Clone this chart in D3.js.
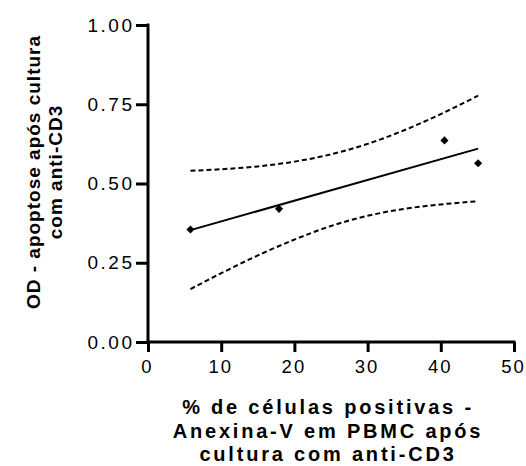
<!DOCTYPE html>
<html>
<head>
<meta charset="utf-8">
<script src="https://cdn.jsdelivr.net/npm/d3@7"></script>
<style>
  html, body { margin: 0; padding: 0; background: #fff; }
  svg { display: block; }
  text { font-family: "Liberation Sans", Arial, Helvetica, sans-serif; fill: #000; }
</style>
</head>
<body>
<svg id="chart" width="526" height="466"></svg>
<script>
// Observed samples
const anexinaPct = [5.8, 17.9, 40.5, 45.1];
const odApoptose = [0.355, 0.420, 0.636, 0.564];

// Linear fit across the observed range
const fitX = [5.8, 45.1];
const fitY = [0.353, 0.610];

// 95% confidence band of the fit
const bandX     = [5.8,   10,    15,    20,    25,    30,    35,    40,    45.1];
const bandLower = [0.167, 0.217, 0.273, 0.323, 0.366, 0.398, 0.420, 0.434, 0.444];
const bandUpper = [0.540, 0.545, 0.554, 0.569, 0.592, 0.625, 0.668, 0.719, 0.777];

// Axis ticks
const xTicks = [0, 10, 20, 30, 40, 50];
const yTicks = [0, 0.25, 0.5, 0.75, 1.0];

const xTitle = ["% de células positivas -", "Anexina-V em PBMC após", "cultura com anti-CD3"];
const yTitle = ["OD - apoptose após cultura", "com anti-CD3"];

const svg = d3.select("#chart");

const x = d3.scaleLinear().domain([0, 50]).range([148, 514]);
const y = d3.scaleLinear().domain([0, 1]).range([342, 25]);

// Axes
const xAxis = d3.axisBottom(x).tickValues(xTicks).tickSize(10).tickPadding(8)
  .tickFormat(d3.format("d"));
const yAxis = d3.axisLeft(y).tickValues(yTicks).tickSize(12).tickPadding(4)
  .tickFormat(d3.format(".2f"));

const gx = svg.append("g").attr("transform", `translate(0,${y(0)})`).call(xAxis);
const gy = svg.append("g").attr("transform", `translate(${x(0)},0)`).call(yAxis);

[gx, gy].forEach(g => {
  g.select(".domain").attr("stroke", "#000").attr("stroke-width", 3)
    .attr("stroke-linecap", "square");
  g.selectAll(".tick line").attr("stroke", "#000").attr("stroke-width", 3);
  g.selectAll(".tick text")
    .style("font-family", '"Liberation Sans", Arial, sans-serif')
    .style("font-size", "19px")
    .style("letter-spacing", "2.5px")
    .attr("fill", "#000");
});
gx.selectAll(".tick text").style("font-size", "18.5px").style("letter-spacing", "2px").attr("dx", "-1px");
// Flat domain paths without outer tick stubs
gx.select(".domain").attr("d", `M${x(0)},0H${x(50)}`);
gy.select(".domain").attr("d", `M0,${y(0)}V${y(1)}`);
gy.selectAll(".tick text").attr("dx", "2.5px");

// Confidence band (dashed)
const line = d3.line().x(d => x(d[0])).y(d => y(d[1])).curve(d3.curveMonotoneX);
[bandLower, bandUpper].forEach(arr => {
  svg.append("path")
    .datum(bandX.map((v, i) => [v, arr[i]]))
    .attr("d", line)
    .attr("fill", "none")
    .attr("stroke", "#000")
    .attr("stroke-width", 2)
    .attr("stroke-dasharray", "5,3");
});

// Regression line
svg.append("path")
  .datum(fitX.map((v, i) => [v, fitY[i]]))
  .attr("d", d3.line().x(d => x(d[0])).y(d => y(d[1])))
  .attr("fill", "none")
  .attr("stroke", "#000")
  .attr("stroke-width", 2);

// Data points
svg.append("g").selectAll("path")
  .data(anexinaPct.map((v, i) => [v, odApoptose[i]]))
  .join("path")
  .attr("transform", d => `translate(${x(d[0])},${y(d[1])})`)
  .attr("d", d3.symbol().type(d3.symbolDiamond2).size(42))
  .attr("fill", "#000");

// X title
svg.append("text")
  .attr("text-anchor", "middle")
  .style("font-size", "20px")
  .style("font-weight", "bold")
  .style("letter-spacing", "2.8px")
  .selectAll("tspan")
  .data(xTitle)
  .join("tspan")
  .attr("x", 328)
  .attr("y", (d, i) => 414 + i * 23.5)
  .text(d => d);

// Y title
svg.append("text")
  .attr("transform", "translate(0,172) rotate(-90)")
  .attr("text-anchor", "middle")
  .style("font-size", "19px")
  .style("font-weight", "bold")
  .style("letter-spacing", "1px")
  .selectAll("tspan")
  .data(yTitle)
  .join("tspan")
  .attr("x", 0)
  .attr("y", (d, i) => 40 + i * 21.5)
  .text(d => d);
</script>
</body>
</html>
